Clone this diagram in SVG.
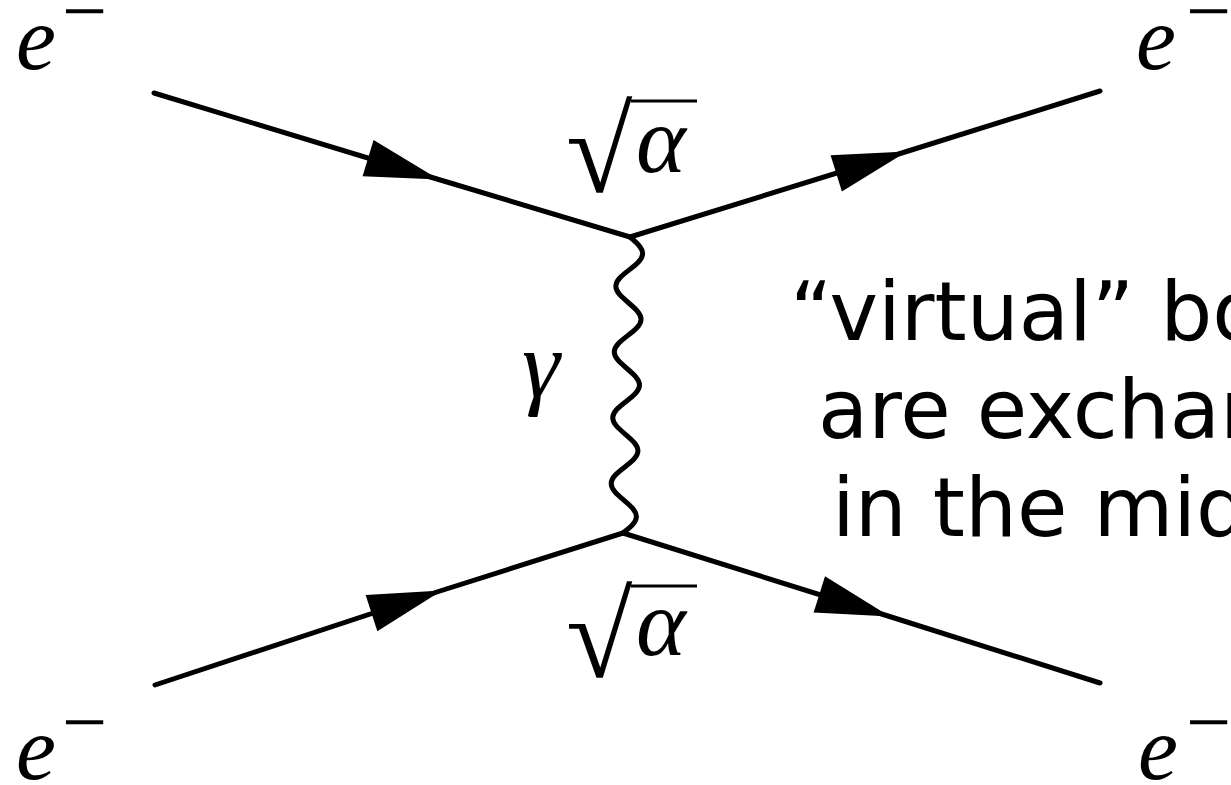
<svg xmlns="http://www.w3.org/2000/svg" width="1231" height="785" viewBox="0 0 1231 785">
  <style>
    .fermion { fill: none; stroke: #000; stroke-width: 5; stroke-linecap: round; marker-mid: url(#arrow); }
    .photon { fill: none; stroke: #000; stroke-width: 5; }
    .math { font-family: "Liberation Serif", "Times New Roman", serif; font-style: italic; fill: #000; }
    .radical { font-family: "Liberation Serif", "Times New Roman", serif; font-style: normal; fill: #000; }
    .bar { stroke: #000; stroke-width: 3; }
    .note { font-family: "DejaVu Sans", "Liberation Sans", sans-serif; font-size: 82px; fill: #000; }
  </style>
  <defs>
    <marker id="arrow" markerUnits="userSpaceOnUse" markerWidth="80" markerHeight="44" refX="0" refY="0" viewBox="-76 -22 80 44" orient="auto" overflow="visible">
      <path d="M2,0 L-72,-19 L-72,19 Z" fill="#000"/>
    </marker>
  </defs>
  <rect width="1231" height="785" fill="#fff"/>

  <g id="connectors">
    <polyline id="e-in-top" class="fermion" points="154,93 437,179 630,237"/>
    <polyline id="e-out-top" class="fermion" points="630,237 905,152 1100,91"/>
    <polyline id="e-in-bottom" class="fermion" points="155,685 440,591 623,533"/>
    <polyline id="e-out-bottom" class="fermion" points="623,533 888,616 1100,683"/>
    <g id="photon" transform="translate(630,237) rotate(1.35)">
      <path class="photon" d="M0,0 c6.8,5.5 13,10.54 13,16.44 c0,5.9 -6.2,10.95 -13,16.45 c-6.8,5.5 -13,10.54 -13,16.44 c0,5.9 6.2,10.95 13,16.45 c6.8,5.5 13,10.54 13,16.44 c0,5.9 -6.2,10.95 -13,16.45 c-6.8,5.5 -13,10.54 -13,16.44 c0,5.9 6.2,10.95 13,16.45 c6.8,5.5 13,10.54 13,16.44 c0,5.9 -6.2,10.95 -13,16.45 c-6.8,5.5 -13,10.54 -13,16.44 c0,5.9 6.2,10.95 13,16.45 c6.8,5.5 13,10.54 13,16.44 c0,5.9 -6.2,10.95 -13,16.45 c-6.8,5.5 -13,10.54 -13,16.44 c0,5.9 6.2,10.95 13,16.45 c6.8,5.5 13,10.54 13,16.44 c0,5.9 -6.2,10.95 -13,16.45"/>
    </g>
  </g>

  <g id="label-e-top-left">
    <text class="math" x="16" y="69" font-size="90">e<tspan class="radical" x="62" y="38" font-size="80">−</tspan></text>
  </g>
  <g id="label-e-top-right">
    <text class="math" x="1136" y="69" font-size="90">e<tspan class="radical" x="1186" y="38" font-size="80">−</tspan></text>
  </g>
  <g id="label-e-bottom-left">
    <text class="math" x="16" y="779" font-size="90">e<tspan class="radical" x="62" y="749" font-size="80">−</tspan></text>
  </g>
  <g id="label-e-bottom-right">
    <text class="math" x="1138" y="779" font-size="90">e<tspan class="radical" x="1186" y="749" font-size="80">−</tspan></text>
  </g>

  <g id="label-coupling-top">
    <text class="radical" x="566" y="192" font-size="121">√</text>
    <line class="bar" x1="631" y1="101" x2="697" y2="101"/>
    <text class="math" x="636" y="172" font-size="95">α</text>
  </g>
  <g id="label-coupling-bottom">
    <text class="radical" x="566" y="677" font-size="121">√</text>
    <line class="bar" x1="631" y1="586" x2="697" y2="586"/>
    <text class="math" x="636" y="655" font-size="95">α</text>
  </g>
  <g id="label-gamma">
    <text class="math" x="522" y="397" font-size="96">γ</text>
  </g>

  <g id="note">
    <text class="note" x="790" y="340">“virtual” bosons</text>
    <text class="note" x="818" y="438">are exchanged</text>
    <text class="note" x="832" y="536">in the middle</text>
  </g>
</svg>
